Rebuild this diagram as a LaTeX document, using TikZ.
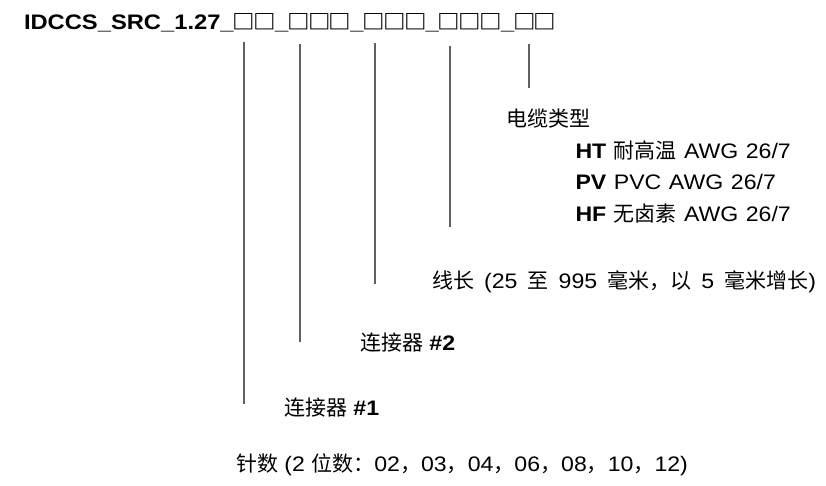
\documentclass[tikz,border=0pt]{standalone}
\usepackage{fontspec}
\setmainfont[FakeStretch=1.1]{Liberation Sans}
\newfontfamily\cjk{Noto Sans CJK SC}
\newfontfamily\titlefont[FakeStretch=1.13]{Liberation Sans}
\newfontfamily\boxfont[FakeStretch=1.1]{Noto Sans CJK SC}
\newcommand{\zh}[1]{{\cjk #1}}
\newcommand{\bx}{\makebox[20.7pt][c]{\raisebox{-0.5pt}{\boxfont\bfseries\fontsize{20.5}{25}\selectfont □}}}
\begin{document}
\begin{tikzpicture}[x=1pt,y=-1pt,
  every node/.style={inner sep=0pt, outer sep=0pt, anchor=base west, font=\fontsize{21}{25}\selectfont},
  lead/.style={draw=black!62, line width=1.4pt}]
\useasboundingbox (0,0) rectangle (826,486);
\node (title) at (24,29.5) {\titlefont\bfseries IDCCS\_SRC\_1.27\_\bx\bx\_\bx\bx\bx\_\bx\bx\bx\_\bx\bx\bx\_\bx\bx};
% lead lines
\coordinate (t1) at (244,42);  \coordinate (b1) at (244,404);
\coordinate (t2) at (300,44);  \coordinate (b2) at (300,342);
\coordinate (t3) at (375,43);  \coordinate (b3) at (375,284);
\coordinate (t4) at (450,46);  \coordinate (b4) at (450,227);
\coordinate (t5) at (529,44);  \coordinate (b5) at (529,88);
\draw[lead] (t1) -- (b1);
\draw[lead] (t2) -- (b2);
\draw[lead] (t3) -- (b3);
\draw[lead] (t4) -- (b4);
\draw[lead] (t5) -- (b5);
% labels
\node (cable) at (506,126.5) {\zh{电缆类型}};
\node (ht) at (575.5,158.5) {\spaceskip=7.4pt\relax\textbf{HT} \zh{耐高温} AWG 26/7};
\node (pv) at (575.5,190) {\spaceskip=7.6pt\relax\textbf{PV} PVC AWG 26/7};
\node (hf) at (575.5,221.5) {\spaceskip=7.4pt\relax\textbf{HF} \zh{无卤素} AWG 26/7};
\node (len) at (432,288) {\spaceskip=10.1pt\relax\zh{线长} (25 \zh{至} 995 \zh{毫米，以} 5 \zh{毫米增长})};
\node (c2) at (360,350) {\zh{连接器} \textbf{\#2}};
\node (c1) at (284,415) {\zh{连接器} \textbf{\#1}};
\node (pins) at (236,471.5) {\zh{针数} (2 \zh{位数：}02\zh{，}03\zh{，}04\zh{，}06\zh{，}08\zh{，}10\zh{，}12)};
\end{tikzpicture}
\end{document}
